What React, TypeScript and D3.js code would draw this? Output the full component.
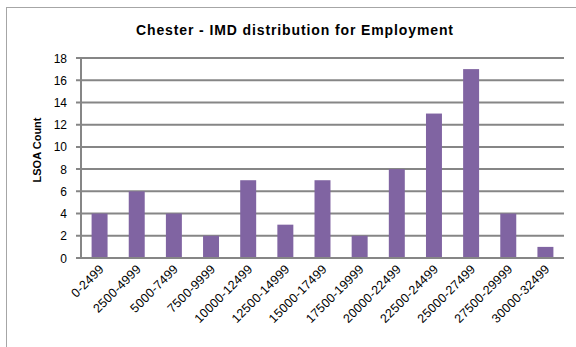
import React from "react";
import * as d3 from "d3";

const categories = [
  "0-2499", "2500-4999", "5000-7499", "7500-9999", "10000-12499",
  "12500-14999", "15000-17499", "17500-19999", "20000-22499",
  "22500-24499", "25000-27499", "27500-29999", "30000-32499",
];
const counts = [4, 6, 4, 2, 7, 3, 7, 2, 8, 13, 17, 4, 1];
const yTicks = [0, 2, 4, 6, 8, 10, 12, 14, 16, 18];
const title = "Chester - IMD distribution for Employment";
const yTitle = "LSOA Count";

const W = 576;
const H = 347;
const plot = { left: 81, right: 564, top: 58, bottom: 258 };
const font = "Liberation Sans, Arial, sans-serif";
const gridColor = "#868686";
const barColor = "#8064A2";

export default function App() {
  const x = d3
    .scaleBand<string>()
    .domain(categories)
    .range([plot.left, plot.right])
    .paddingInner(0.57)
    .paddingOuter(0.285);
  const y = d3.scaleLinear().domain([0, 18]).range([plot.bottom, plot.top]);

  return (
    <svg
      width={W}
      height={H}
      style={{ position: "absolute", left: 0, top: 0, background: "#fff" }}
      fontFamily={font}
    >
      <rect x={6.5} y={7.5} width={W} height={H} fill="#fff" stroke="#a6a6a6" strokeWidth={1} />
      <text
        x={294.5}
        y={35}
        textAnchor="middle"
        fontSize={14}
        fontWeight="bold"
        fill="#000"
        textLength={317}
        lengthAdjust="spacing"
      >
        {title}
      </text>
      {yTicks.map((t) => (
        <g key={t}>
          <line x1={76} x2={plot.right} y1={y(t)} y2={y(t)} stroke={gridColor} strokeWidth={2} />
          <text x={67} y={y(t) + 4.5} textAnchor="end" fontSize={12} fill="#000">
            {t}
          </text>
        </g>
      ))}
      <line x1={plot.left} x2={plot.left} y1={plot.top - 1} y2={plot.bottom + 1} stroke={gridColor} strokeWidth={2} />
      {categories.map((c, i) => (
        <rect
          key={c}
          x={x(c)!}
          y={y(counts[i])}
          width={x.bandwidth()}
          height={y(0) - y(counts[i]) - 1}
          fill={barColor}
        />
      ))}
      {categories.map((c) => {
        const cx = x(c)! + x.bandwidth() / 2;
        return (
          <text
            key={c}
            transform={`translate(${cx + 5},${plot.bottom + 12}) rotate(-45)`}
            textAnchor="end"
            fontSize={12.5}
            letterSpacing={0.2}
            fill="#000"
          >
            {c}
          </text>
        );
      })}
      <text
        transform={`translate(41,150) rotate(-90)`}
        textAnchor="middle"
        fontSize={11}
        fontWeight="bold"
        fill="#000"
      >
        {yTitle}
      </text>
    </svg>
  );
}
